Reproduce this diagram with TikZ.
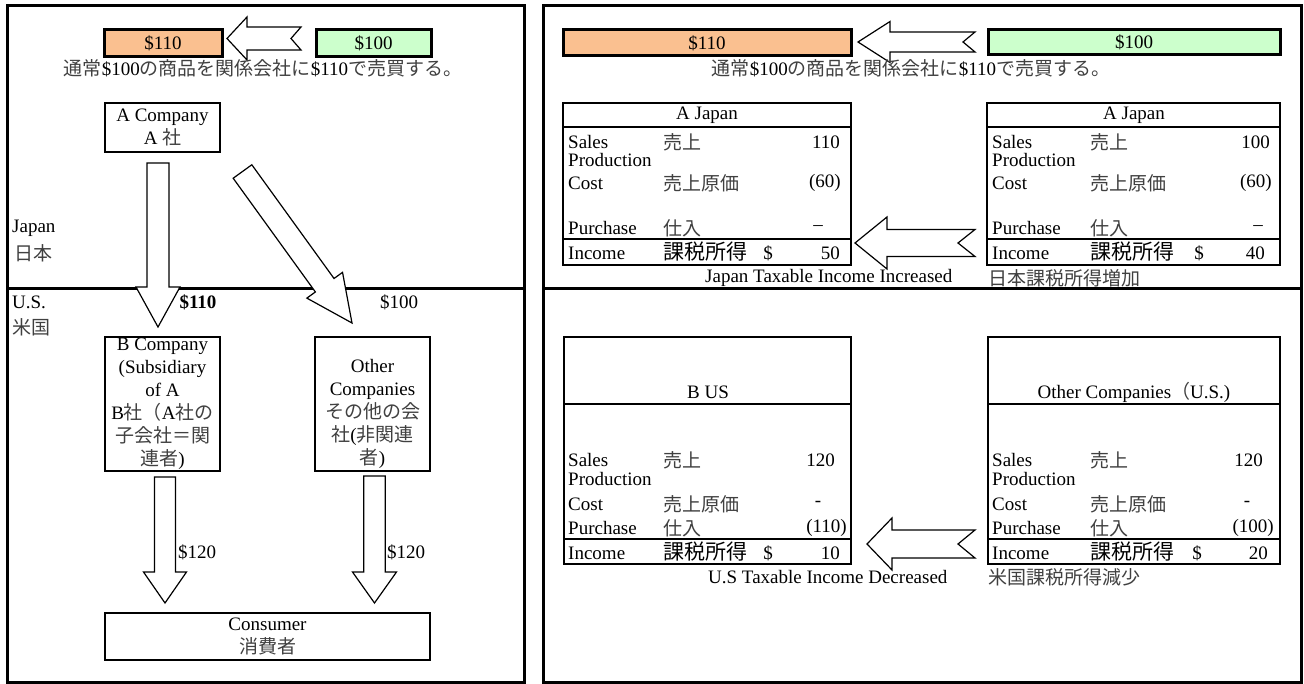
\documentclass[tikz,border=0pt]{standalone}
\usepackage{fontspec}
\setmainfont{Liberation Serif}
\newfontfamily\jpfont{Noto Sans CJK JP}
\usetikzlibrary{calc}
\definecolor{orangefill}{HTML}{FAC090}
\definecolor{greenfill}{HTML}{CCFFCC}
\definecolor{jpgray}{gray}{0.25}
\newcommand{\J}[1]{{\jpfont\color{jpgray}#1}}
\newcommand{\JB}[1]{{\jpfont\fontsize{21}{23}\selectfont #1}}
% block arrow: #1 tail, #2 tip, #3 shaft half width, #4 head half width, #5 head length, #6 notch depth
\newcommand{\blockarr}[6]{%
  \path ($(#2)!#5!(#1)$) coordinate (ba-h);
  \draw[blockarrow] ($(#1)!#3!90:(#2)$) -- ($(ba-h)!#3!-90:(#1)$) -- ($(ba-h)!#4!-90:(#1)$) -- (#2)
    -- ($(ba-h)!#4!90:(#1)$) -- ($(ba-h)!#3!90:(#1)$) -- ($(#1)!#3!-90:(#2)$) -- ($(#1)!#6!(#2)$) -- cycle;}
\begin{document}
\begin{tikzpicture}[x=1pt,y=-1pt,
  every node/.style={font=\fontsize{19}{23}\selectfont, inner sep=0pt},
  frame/.style={line width=3pt},
  pricebox/.style={draw, line width=3pt},
  cobox/.style={draw, line width=2pt},
  tbl/.style={draw, line width=2pt},
  tline/.style={line width=2pt},
  blockarrow/.style={draw, fill=white, line width=1.2pt, line join=miter}]
\useasboundingbox (0,0) rectangle (1304,684);

% ---------- frames ----------
\draw[frame] (7.5,6) rectangle (524,682);
\draw[frame] (7.5,289) -- (524,289);
\draw[frame] (543,6) rectangle (1301.5,682);
\draw[frame] (543,289) -- (1301.5,289);

% ---------- left panel ----------
\node[pricebox, fill=orangefill, minimum width=118pt, minimum height=27pt] (p110L) at (163,43.5) {\$110};
\node[pricebox, fill=greenfill, minimum width=115pt, minimum height=27pt] (p100L) at (373.5,43.5) {\$100};
\coordinate (arLt) at (301,38.5);
\coordinate (arLh) at (227,38.5);
\blockarr{arLt}{arLh}{11.5pt}{21.5pt}{20pt}{10pt}
\node (txtL) at (263,68) {\J{通常}\$100\J{の商品を関係会社に}\$110\J{で売買する。}};

\node[cobox, minimum width=115pt, minimum height=49pt, align=center] (A) at (162.5,127.5) {A Company\\A \J{社}};
\node[cobox, minimum width=115pt, minimum height=134pt] (B) at (162.5,404) {};
\node[align=center] (Btxt) at (162.5,404) {B Company\\(Subsidiary\\of A\\B\J{社（}A\J{社の}\\\J{子会社＝関}\\\J{連者})};
\node[cobox, minimum width=115pt, minimum height=134pt] (O) at (372.5,404) {};
\node[align=center] (Otxt) at (372.5,414) {Other\\Companies\\\J{その他の会}\\\J{社}(\J{非関連}\\\J{者})};
\node[cobox, minimum width=325pt, minimum height=47pt, align=center] (Cons) at (267.5,636.5) {Consumer\\\J{消費者}};

\coordinate (abT) at (158,163);
\coordinate (abH) at (158,327);
\blockarr{abT}{abH}{11pt}{22pt}{40pt}{0pt}
\coordinate (aoT) at (242.5,171.5);
\coordinate (aoH) at (352,323);
\blockarr{aoT}{aoH}{11.5pt}{22pt}{46.6pt}{0pt}
\coordinate (bcT) at (165,477);
\coordinate (bcH) at (165,603);
\blockarr{bcT}{bcH}{10.5pt}{21.5pt}{31pt}{0pt}
\coordinate (ocT) at (374.5,476);
\coordinate (ocH) at (374.5,603);
\blockarr{ocT}{ocH}{10.7pt}{22pt}{31pt}{0pt}

\node[anchor=west] (jpn) at (12,228) {Japan};
\node[anchor=west] (jpnj) at (14,253) {\J{日本}};
\node[anchor=west] (us) at (12,302) {U.S.};
\node[anchor=west] (usj) at (12,327) {\J{米国}};
\node (l110) at (198,302) {\textbf{\$110}};
\node (l100) at (399,302) {\$100};
\node[anchor=west] (l120a) at (178,552) {\$120};
\node[anchor=west] (l120b) at (387,552) {\$120};

% ---------- right panel top ----------
\node[pricebox, fill=orangefill, minimum width=288pt, minimum height=26pt] (p110R) at (707,43) {\$110};
\node[pricebox, fill=greenfill, minimum width=292pt, minimum height=25pt] (p100R) at (1134,42.5) {\$100};
\coordinate (arRt) at (975,42);
\coordinate (arRh) at (858,42);
\blockarr{arRt}{arRh}{10pt}{20.5pt}{32pt}{12pt}
\node (txtR) at (911,68) {\J{通常}\$100\J{の商品を関係会社に}\$110\J{で売買する。}};

% table A Japan (left)
\node[tbl, minimum width=288pt, minimum height=162pt] (TA) at (707,184) {};
\draw[tline] (563,127) -- (851,127);
\draw[tline] (563,239) -- (851,239);
\node (taH) at (707,115) {A Japan};
\node[anchor=west] (ta1) at (568,142) {Sales};
\node[anchor=west] (ta2) at (568,160) {Production};
\node[anchor=west] (ta3) at (568,183) {Cost};
\node[anchor=west] (ta4) at (568,228) {Purchase};
\node[anchor=west] (ta5) at (568,253) {Income};
\node[anchor=west] (taj1) at (663,142) {\J{売上}};
\node[anchor=west] (taj3) at (663,183) {\J{売上原価}};
\node[anchor=west] (taj4) at (663,228) {\J{仕入}};
\node[anchor=west] (taj5) at (663,252) {\JB{課税所得}};
\node[anchor=east] (tav1) at (840,142) {110};
\node[anchor=east] (tav3) at (841,183) {(60)};
\node (tav4) at (818,228) {–};
\node (tad) at (768,253) {\$};
\node[anchor=east] (tav5) at (840,253) {50};

% table A Japan (right)
\node[tbl, minimum width=293pt, minimum height=162pt] (TB) at (1133.5,184) {};
\draw[tline] (987,127) -- (1280,127);
\draw[tline] (987,239) -- (1280,239);
\node (tbH) at (1134,115) {A Japan};
\node[anchor=west] (tb1) at (992,142) {Sales};
\node[anchor=west] (tb2) at (992,160) {Production};
\node[anchor=west] (tb3) at (992,183) {Cost};
\node[anchor=west] (tb4) at (992,228) {Purchase};
\node[anchor=west] (tb5) at (992,253) {Income};
\node[anchor=west] (tbj1) at (1090,142) {\J{売上}};
\node[anchor=west] (tbj3) at (1090,183) {\J{売上原価}};
\node[anchor=west] (tbj4) at (1090,228) {\J{仕入}};
\node[anchor=west] (tbj5) at (1090,252) {\JB{課税所得}};
\node[anchor=east] (tbv1) at (1270,142) {100};
\node[anchor=east] (tbv3) at (1272,183) {(60)};
\node (tbv4) at (1258,228) {–};
\node (tbd) at (1199,253) {\$};
\node[anchor=east] (tbv5) at (1265,253) {40};

% middle arrows
\coordinate (m1t) at (975,243);
\coordinate (m1h) at (855,243);
\blockarr{m1t}{m1h}{13.5pt}{26pt}{32pt}{17pt}
\coordinate (m2t) at (975,544);
\coordinate (m2h) at (867,544);
\blockarr{m2t}{m2h}{14pt}{26pt}{25pt}{17pt}

% table B US
\node[tbl, minimum width=287pt, minimum height=227pt] (TC) at (707.5,450.5) {};
\draw[tline] (564,404) -- (851,404);
\draw[tline] (564,539) -- (851,539);
\node (tcH) at (708,392) {B US};
\node[anchor=west] (tc1) at (568,460) {Sales};
\node[anchor=west] (tc2) at (568,479) {Production};
\node[anchor=west] (tc3) at (568,504) {Cost};
\node[anchor=west] (tc4) at (568,528) {Purchase};
\node[anchor=west] (tc5) at (568,553) {Income};
\node[anchor=west] (tcj1) at (663,460) {\J{売上}};
\node[anchor=west] (tcj3) at (663,504) {\J{売上原価}};
\node[anchor=west] (tcj4) at (663,528) {\J{仕入}};
\node[anchor=west] (tcj5) at (663,552) {\JB{課税所得}};
\node[anchor=east] (tcv1) at (835,460) {120};
\node (tcv3) at (818,504) {-};
\node[anchor=east] (tcv4) at (847,528) {(110)};
\node (tcd) at (768,553) {\$};
\node[anchor=east] (tcv5) at (840,553) {10};

% table Other Companies (U.S.)
\node[tbl, minimum width=292pt, minimum height=227pt] (TD) at (1134,450.5) {};
\draw[tline] (988,404) -- (1280,404);
\draw[tline] (988,539) -- (1280,539);
\node (tdH) at (1134,392) {Other Companies\J{（}U.S.)};
\node[anchor=west] (td1) at (992,460) {Sales};
\node[anchor=west] (td2) at (992,479) {Production};
\node[anchor=west] (td3) at (992,504) {Cost};
\node[anchor=west] (td4) at (992,528) {Purchase};
\node[anchor=west] (td5) at (992,553) {Income};
\node[anchor=west] (tdj1) at (1090,460) {\J{売上}};
\node[anchor=west] (tdj3) at (1090,504) {\J{売上原価}};
\node[anchor=west] (tdj4) at (1090,528) {\J{仕入}};
\node[anchor=west] (tdj5) at (1090,552) {\JB{課税所得}};
\node[anchor=east] (tdv1) at (1263,460) {120};
\node (tdv3) at (1247,504) {-};
\node[anchor=east] (tdv4) at (1274,528) {(100)};
\node (tdd) at (1197,553) {\$};
\node[anchor=east] (tdv5) at (1268,553) {20};

% captions
\node[anchor=west] (capJ) at (705,278) {Japan Taxable Income Increased};
\node[anchor=west] (capJj) at (988,278) {\J{日本課税所得増加}};
\node[anchor=west] (capU) at (708,577) {U.S Taxable Income Decreased};
\node[anchor=west] (capUj) at (988,577) {\J{米国課税所得減少}};
\end{tikzpicture}
\end{document}
